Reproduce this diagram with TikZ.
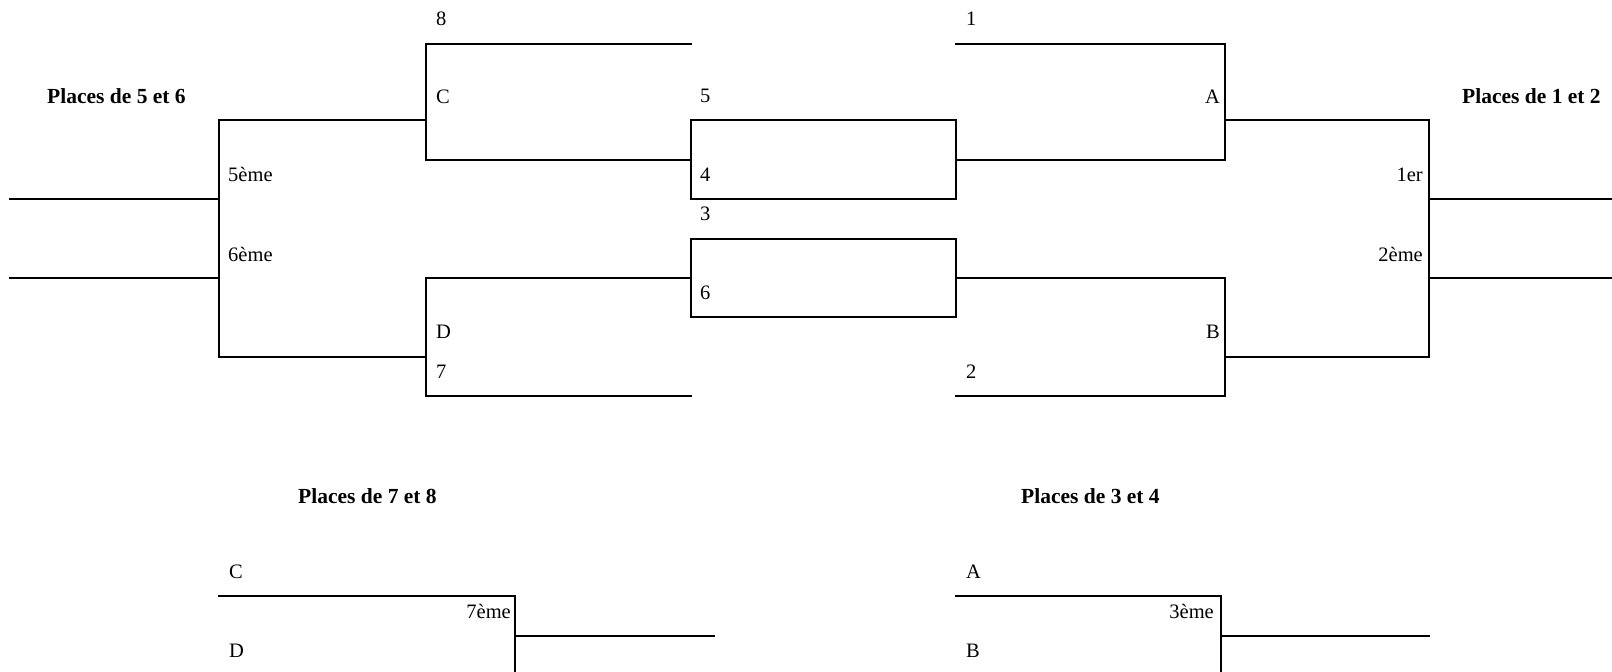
\documentclass[tikz,border=0pt]{standalone}
\usepackage{fontspec}
\setmainfont{Liberation Serif}
\begin{document}
\begin{tikzpicture}[x=1pt,y=-1pt,
  ln/.style={line width=2pt,line cap=rect,line join=miter},
  lbl/.style={inner sep=0pt,font=\fontsize{20.5}{24}\selectfont},
  lw/.style={lbl,anchor=base west},
  le/.style={lbl,anchor=base east},
  ttl/.style={inner sep=0pt,anchor=base west,font=\fontsize{21.5}{26}\selectfont\bfseries}]
\useasboundingbox (0,0) rectangle (1612,672);
% coordinates
\coordinate (l56a) at (10,199);  \coordinate (l56b) at (10,278);
\coordinate (v56t) at (219,120); \coordinate (v56b) at (219,357);
\coordinate (v56m1) at (219,199); \coordinate (v56m2) at (219,278);
\coordinate (ct) at (426,44); \coordinate (cb) at (426,160); \coordinate (cm) at (426,120);
\coordinate (dt) at (426,278); \coordinate (db) at (426,396); \coordinate (dm) at (426,357);
\coordinate (ce) at (691,44); \coordinate (de) at (691,396);
\coordinate (at) at (1225,44); \coordinate (ab) at (1225,160); \coordinate (am) at (1225,120);
\coordinate (bt) at (1225,278); \coordinate (bb) at (1225,396); \coordinate (bm) at (1225,357);
\coordinate (as) at (956,44); \coordinate (bs) at (956,396);
\coordinate (v12t) at (1429,120); \coordinate (v12b) at (1429,357);
\coordinate (v12m1) at (1429,199); \coordinate (v12m2) at (1429,278);
\coordinate (r12a) at (1612,199); \coordinate (r12b) at (1612,278);
% left bracket 5/6
\draw[ln] (l56a) -- (v56m1);
\draw[ln] (l56b) -- (v56m2);
\draw[ln] (cm) -- (v56t) -- (v56b) -- (dm);
% box C
\draw[ln] (ce) -- (ct) -- (cb) -- (691,160);
% box D
\draw[ln] (691,278) -- (dt) -- (db) -- (de);
% middle boxes
\draw[ln] (691,120) rectangle (956,199);
\draw[ln] (691,239) rectangle (956,317);
% box A
\draw[ln] (as) -- (at) -- (ab) -- (956,160);
% box B
\draw[ln] (956,278) -- (bt) -- (bb) -- (bs);
% right bracket 1/2
\draw[ln] (am) -- (v12t) -- (v12b) -- (bm);
\draw[ln] (v12m1) -- (r12a);
\draw[ln] (v12m2) -- (r12b);
% bottom brackets
\coordinate (c78a) at (219,596); \coordinate (c78v) at (515,596);
\coordinate (c78b) at (515,672); \coordinate (c78m) at (515,636); \coordinate (c78e) at (714,636);
\draw[ln] (c78a) -- (c78v) -- (c78b);
\draw[ln] (c78m) -- (c78e);
\coordinate (c34a) at (956,596); \coordinate (c34v) at (1221,596);
\coordinate (c34b) at (1221,672); \coordinate (c34m) at (1221,636); \coordinate (c34e) at (1429,636);
\draw[ln] (c34a) -- (c34v) -- (c34b);
\draw[ln] (c34m) -- (c34e);
% titles
\node[ttl] (t56) at (47,103) {Places de 5 et 6};
\node[ttl] (t12) at (1462,103) {Places de 1 et 2};
\node[ttl] (t78) at (298,503) {Places de 7 et 8};
\node[ttl] (t34) at (1021,503) {Places de 3 et 4};
% labels left
\node[lw] (n8) at (436,25) {8};
\node[lw] (nC) at (436,103) {C};
\node[lw] (n5e) at (228,181) {5ème};
\node[lw] (n6e) at (228,261) {6ème};
\node[lw] (nD) at (436,338) {D};
\node[lw] (n7) at (436,378) {7};
% middle labels
\node[lw] (n5) at (700,102) {5};
\node[lw] (n4) at (700,181) {4};
\node[lw] (n3) at (700,220) {3};
\node[lw] (n6) at (700,299) {6};
% right labels
\node[lw] (n1) at (966,25) {1};
\node[lw] (n2) at (966,378) {2};
\node[le] (nA) at (1220,103) {A};
\node[le] (nB) at (1220,338) {B};
\node[le] (n1er) at (1423,181) {1er};
\node[le] (n2e) at (1423,261) {2ème};
% bottom labels
\node[lw] (bC) at (229,578) {C};
\node[le] (b7e) at (511,618) {7ème};
\node[lw] (bD) at (229,657) {D};
\node[lw] (bA) at (966,578) {A};
\node[le] (b3e) at (1214,618) {3ème};
\node[lw] (bB) at (966,657) {B};
\end{tikzpicture}
\end{document}
